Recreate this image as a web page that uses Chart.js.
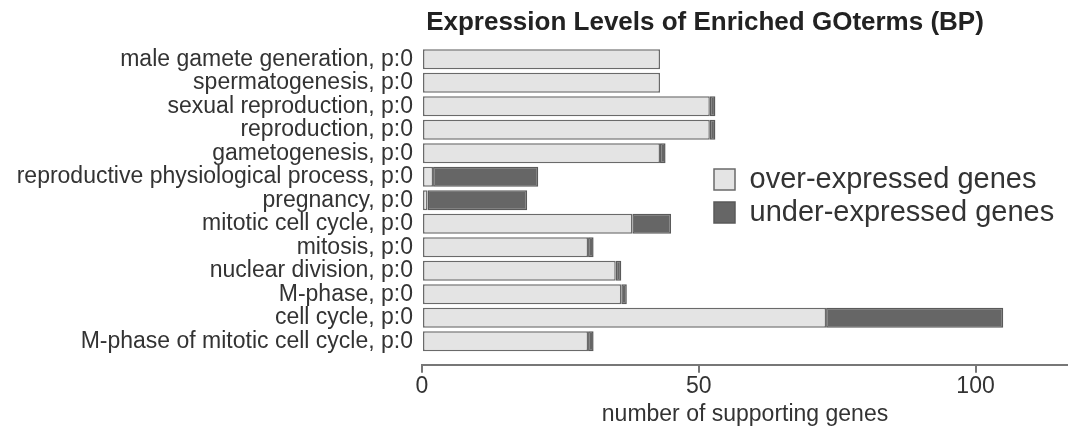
<!DOCTYPE html>
<html>
<head>
<meta charset="utf-8">
<title>Expression Levels of Enriched GOterms (BP)</title>
<script src="https://cdn.jsdelivr.net/npm/chart.js@4.4.1/dist/chart.umd.min.js"></script>
<style>
  html, body { margin: 0; padding: 0; background: #fff; }
</style>
</head>
<body>
<canvas id="chart" width="1068" height="427"></canvas>
<script>
// ============ Data ============
const categories = [
  'male gamete generation, p:0',
  'spermatogenesis, p:0',
  'sexual reproduction, p:0',
  'reproduction, p:0',
  'gametogenesis, p:0',
  'reproductive physiological process, p:0',
  'pregnancy, p:0',
  'mitotic cell cycle, p:0',
  'mitosis, p:0',
  'nuclear division, p:0',
  'M-phase, p:0',
  'cell cycle, p:0',
  'M-phase of mitotic cell cycle, p:0',
];
const overExpressed  = [43, 43, 52, 52, 43, 2, 1, 38, 30, 35, 36, 73, 30];
const underExpressed = [0, 0, 1, 1, 1, 19, 18, 7, 1, 1, 1, 32, 1];
const xTicks = [0, 50, 100];

const TITLE = 'Expression Levels of Enriched GOterms (BP)';
const TEXT_COLOR = '#333';
const AXIS_COLOR = '#777';

Chart.defaults.font.family = '"Liberation Sans", Arial, Helvetica, sans-serif';
Chart.defaults.color = TEXT_COLOR;

// title is centred over the plot, not over the whole canvas
const titlePlugin = {
  id: 'plotTitle',
  afterDraw(chart) {
    const ctx = chart.ctx;
    ctx.save();
    ctx.font = 'bold 26px "Liberation Sans", Arial, sans-serif';
    ctx.fillStyle = '#222';
    ctx.textAlign = 'center';
    ctx.textBaseline = 'middle';
    ctx.fillText(TITLE, 705, 23);
    ctx.restore();
  }
};

// legend sits inside the plot, right of the short bars
const legendPlacer = {
  id: 'legendPlacer',
  afterLayout(chart) {
    const lg = chart.legend;
    lg.left = 710;
    lg.right = 1068;
    lg.top = 161;
    lg.bottom = 260;
  }
};

function toPoints(values) {
  return values.map((v, i) => ({ x: v, y: i }));
}

const ctx = document.getElementById('chart').getContext('2d');
const chart = new Chart(ctx, {
  type: 'bar',
  data: {
    datasets: [
      {
        label: 'over-expressed genes',
        data: toPoints(overExpressed),
        backgroundColor: '#e4e4e4',
        borderColor: '#6a6a6a',
        borderWidth: 1.5,
        borderSkipped: false,
      },
      {
        label: 'under-expressed genes',
        data: toPoints(underExpressed),
        backgroundColor: '#666666',
        borderColor: '#5a5a5a',
        borderWidth: 1.5,
        borderSkipped: false,
      },
    ],
  },
  options: {
    indexAxis: 'y',
    responsive: false,
    animation: false,
    barPercentage: 0.85,
    categoryPercentage: 1,
    layout: { padding: { top: 47.5, left: 0, right: 0, bottom: 0 } },
    plugins: {
      title: { display: false },
      tooltip: { enabled: false },
      legend: {
        position: 'chartArea',
        align: 'start',
        labels: {
          boxWidth: 21,
          boxHeight: 21,
          padding: 4,
          color: TEXT_COLOR,
          font: { size: 29 },
        },
      },
    },
    scales: {
      x: {
        type: 'linear',
        stacked: true,
        min: 0,
        max: 116.7,
        afterBuildTicks: (scale) => {
          scale.ticks = xTicks.map(v => ({ value: v }));
        },
        grid: {
          drawOnChartArea: false,
          drawTicks: true,
          tickLength: 8,
          color: AXIS_COLOR,
          lineWidth: 2,
        },
        border: { display: true, color: AXIS_COLOR, width: 2 },
        ticks: {
          padding: 2,
          color: TEXT_COLOR,
          font: { size: 23, lineHeight: 1 },
          maxRotation: 0,
        },
        title: {
          display: true,
          text: 'number of supporting genes',
          color: TEXT_COLOR,
          font: { size: 23, lineHeight: 1.1 },
          padding: { top: 2, bottom: 0 },
        },
      },
      y: {
        type: 'linear',
        stacked: true,
        reverse: true,
        offset: false,
        min: -0.5,
        max: 13,
        afterBuildTicks: (scale) => {
          scale.ticks = categories.map((_, i) => ({ value: i }));
        },
        afterFit: (scale) => { scale.width = 422; },
        grid: { display: false, drawTicks: false, tickLength: 0 },
        border: { display: false },
        ticks: {
          autoSkip: false,
          padding: 9,
          color: TEXT_COLOR,
          font: { size: 23, lineHeight: 1 },
          callback: (v) => categories[v] || '',
        },
      },
    },
  },
  plugins: [titlePlugin, legendPlacer],
});
</script>
</body>
</html>
